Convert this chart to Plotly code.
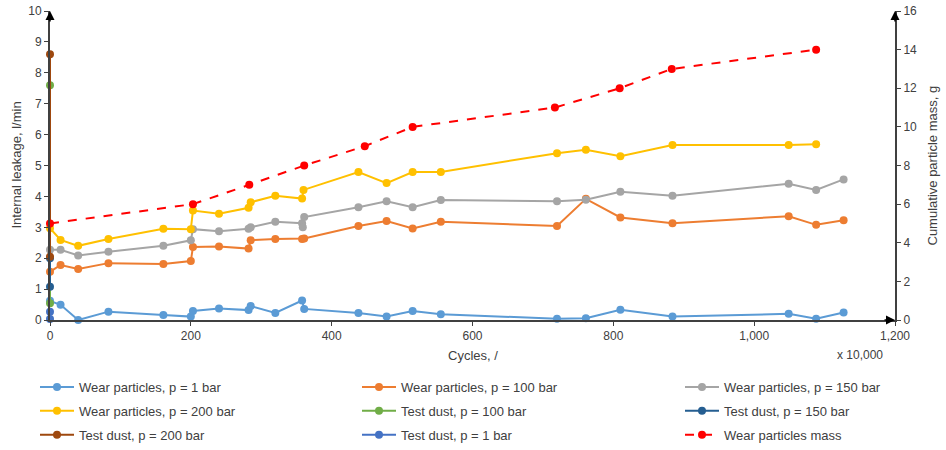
import plotly.graph_objects as go

# ---- data ----
x_w1 = [0, 15, 40, 83, 161, 200, 203, 240, 282, 285, 320, 358, 361, 438, 478, 515, 555, 720, 761, 810, 884, 1049, 1088, 1127]
y_w1 = [0.62, 0.49, 0.0, 0.27, 0.16, 0.11, 0.29, 0.37, 0.32, 0.45, 0.23, 0.63, 0.36, 0.23, 0.11, 0.29, 0.19, 0.04, 0.06, 0.33, 0.11, 0.20, 0.04, 0.24]

x_w100 = [0, 15, 40, 83, 161, 200, 203, 240, 282, 285, 320, 358, 361, 438, 478, 515, 555, 720, 761, 810, 884, 1049, 1088, 1127]
y_w100 = [1.56, 1.78, 1.65, 1.84, 1.81, 1.91, 2.36, 2.38, 2.31, 2.58, 2.62, 2.62, 2.64, 3.04, 3.20, 2.96, 3.18, 3.04, 3.92, 3.32, 3.13, 3.36, 3.08, 3.23]

x_w150 = [0, 15, 40, 83, 161, 200, 203, 240, 282, 285, 320, 358, 359, 361, 438, 478, 515, 555, 720, 761, 810, 884, 1049, 1088, 1127]
y_w150 = [2.27, 2.27, 2.09, 2.21, 2.40, 2.58, 2.94, 2.87, 2.95, 3.00, 3.18, 3.13, 3.0, 3.33, 3.65, 3.84, 3.65, 3.88, 3.84, 3.89, 4.15, 4.02, 4.41, 4.21, 4.55]

x_w200 = [0, 15, 40, 83, 161, 200, 203, 240, 282, 285, 320, 358, 360, 438, 478, 515, 555, 720, 761, 810, 884, 1049, 1088]
y_w200 = [2.97, 2.59, 2.40, 2.62, 2.95, 2.94, 3.54, 3.44, 3.63, 3.81, 4.02, 3.93, 4.21, 4.79, 4.43, 4.79, 4.79, 5.40, 5.51, 5.30, 5.66, 5.66, 5.69]

x_dust = [0, 0]
y_dust100 = [7.6, 0.54]
y_dust150 = [2.0, 1.08]
y_dust200 = [8.6, 2.05]
y_dust1 = [0.27, 0.03]

x_mass = [0, 203, 283, 361, 447, 515, 717, 809, 883, 1088]
y_mass = [5, 6, 7, 8, 9, 10, 11, 12, 13, 14]

x_ticks = [0, 200, 400, 600, 800, 1000, 1200]
x_ticklabels = ["0", "200", "400", "600", "800", "1,000", "1,200"]

FONT = "Liberation Sans"
AXC = "#404040"
TXT = "#404040"

fig = go.Figure()

def add(x, y, name, color, legend, yaxis="y", dash="solid"):
    fig.add_trace(go.Scatter(
        x=x, y=y, name=name, mode="lines+markers", yaxis=yaxis,
        line=dict(color=color, width=2, dash=dash),
        marker=dict(color=color, size=8),
        cliponaxis=False, legend=legend, legendgroup=name,
    ))

add(x_w1, y_w1, "Wear particles, p = 1 bar", "#5B9BD5", "legend")
add(x_w100, y_w100, "Wear particles, p = 100 bar", "#ED7D31", "legend2")
add(x_w150, y_w150, "Wear particles, p = 150 bar", "#A5A5A5", "legend3")
add(x_w200, y_w200, "Wear particles, p = 200 bar", "#FFC000", "legend")
add(x_dust, y_dust100, "Test dust, p = 100 bar", "#70AD47", "legend2")
add(x_dust, y_dust150, "Test dust, p = 150 bar", "#255E91", "legend3")
add(x_dust, y_dust200, "Test dust, p = 200 bar", "#9E480E", "legend")
add(x_dust, y_dust1, "Test dust, p = 1 bar", "#4472C4", "legend2")
add(x_mass, y_mass, "Wear particles mass", "#FF0000", "legend3", yaxis="y2", dash="dash")

def leg(xpx):
    return dict(
        orientation="v", xref="container", yref="container",
        x=xpx / 946, xanchor="left", y=1 - 372 / 450, yanchor="top",
        itemwidth=34, traceorder="grouped", tracegroupgap=4,
        font=dict(size=13, family=FONT, color=TXT),
        bgcolor="rgba(0,0,0,0)",
    )

fig.update_layout(
    width=946, height=450,
    margin=dict(l=50, r=51, t=11, b=130, autoexpand=False),
    paper_bgcolor="white", plot_bgcolor="white",
    font=dict(family=FONT, size=12, color=TXT),
    showlegend=True,
    xaxis=dict(
        range=[0, 1200], tickvals=x_ticks, ticktext=x_ticklabels, automargin=False,
        showgrid=False, zeroline=False, showline=True, linecolor=AXC, linewidth=2,
        ticks="outside", ticklen=4, tickcolor=AXC,
        tickfont=dict(size=12, color=TXT),
    ),
    yaxis=dict(
        range=[0, 10], dtick=1, showgrid=False, zeroline=False, automargin=False,
        showline=True, linecolor=AXC, linewidth=2, ticks="outside", ticklen=4, tickcolor=AXC,
        tickfont=dict(size=12, color=TXT),
    ),
    yaxis2=dict(
        range=[0, 16], dtick=2, overlaying="y", side="right", showgrid=False, zeroline=False,
        automargin=False,
        showline=True, linecolor=AXC, linewidth=2, ticks="outside", ticklen=4, tickcolor=AXC,
        tickfont=dict(size=12, color=TXT),
    ),
    legend=leg(35), legend2=leg(357), legend3=leg(680),
    annotations=[
        dict(x=0, y=1, xref="paper", yref="paper", showarrow=True, ax=0, ay=12,
             arrowhead=2, arrowsize=1.2, arrowwidth=1.5, arrowcolor="black", text=""),
        dict(x=1, y=1, xref="paper", yref="paper", showarrow=True, ax=0, ay=12,
             arrowhead=2, arrowsize=1.2, arrowwidth=1.5, arrowcolor="black", text=""),
        dict(x=1, y=0, xref="paper", yref="paper", showarrow=True, ax=-12, ay=0,
             arrowhead=2, arrowsize=1.2, arrowwidth=1.5, arrowcolor="black", text=""),
        dict(x=0.5, y=(320 - 355) / 309, xref="paper", yref="paper", showarrow=False,
             text="Cycles, /", font=dict(size=13, color=TXT), xanchor="center", yanchor="middle"),
        dict(x=(860 - 50) / 845, y=(320 - 355) / 309, xref="paper", yref="paper", showarrow=False,
             text="x 10,000", font=dict(size=12, color=TXT), xanchor="center", yanchor="middle"),
        dict(x=(16 - 50) / 845, y=0.5, xref="paper", yref="paper", showarrow=False, textangle=-90,
             text="Internal leakage, l/min", font=dict(size=13, color=TXT), xanchor="center", yanchor="middle"),
        dict(x=(932 - 50) / 845, y=0.5, xref="paper", yref="paper", showarrow=False, textangle=-90,
             text="Cumulative particle mass, g", font=dict(size=13, color=TXT), xanchor="center", yanchor="middle"),
    ],
)

fig.write_html("out.html", config={"displayModeBar": False},
               post_script="document.body.style.margin='0';document.body.style.padding='0';")
